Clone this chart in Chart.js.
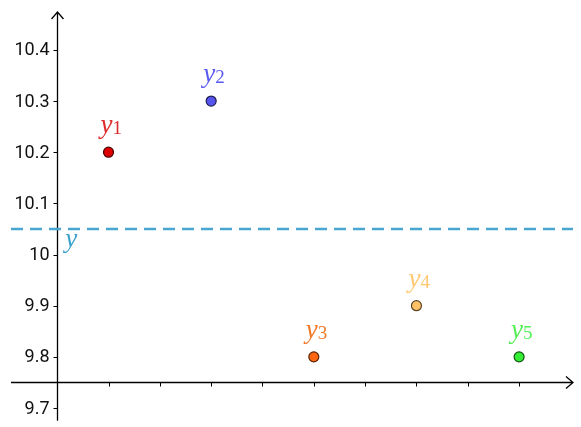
<!DOCTYPE html>
<html>
<head>
<meta charset="utf-8">
<script src="https://cdn.jsdelivr.net/npm/chart.js@4/dist/chart.umd.min.js"></script>
<style>
  html, body { margin: 0; padding: 0; background: #fff; }
  #wrap { width: 581px; height: 427px; }
</style>
</head>
<body>
<div id="wrap"><canvas id="plot" width="581" height="427"></canvas></div>
<script>
// point data
let names = ["1", "2", "3", "4", "5"];
let xValues = [1, 3, 5, 7, 9];
let yValues = [10.2, 10.3, 9.8, 9.9, 9.8];
let fillColors = ["#dd0000", "#5555ee", "#ff6611", "#ffc266", "#33ee33"];
let labelColors = ["#dd2b2b", "#5a5af0", "#f07a2a", "#ffc870", "#55ee55"];

// mean line
let meanValue = 10.05;

// axes
let yTicks = [9.7, 9.8, 9.9, 10, 10.1, 10.2, 10.3, 10.4];
let xTicks = [1, 2, 3, 4, 5, 6, 7, 8, 9];
let xAxisAt = 9.75;

function darker(hex) {
  let n = parseInt(hex.slice(1), 16);
  let r = Math.round(((n >> 16) & 255) * 0.35);
  let g = Math.round(((n >> 8) & 255) * 0.35);
  let b = Math.round((n & 255) * 0.35);
  return "rgb(" + r + "," + g + "," + b + ")";
}

let pointData = xValues.map((x, i) => ({ x: x, y: yValues[i] }));

let axesPlugin = {
  id: "axes",
  beforeDatasetsDraw(chart) {
    let ctx = chart.ctx;
    let xs = chart.scales.x, ys = chart.scales.y;
    let area = chart.chartArea;
    let x0 = Math.round(xs.getPixelForValue(0)) + 0.5;
    let yAx = Math.round(ys.getPixelForValue(xAxisAt)) + 0.5;
    ctx.save();
    ctx.strokeStyle = "#000";
    ctx.lineWidth = 1.3;
    // x axis
    ctx.beginPath();
    ctx.moveTo(area.left, yAx);
    ctx.lineTo(area.right, yAx);
    ctx.moveTo(area.right - 7, yAx - 6);
    ctx.lineTo(area.right, yAx);
    ctx.lineTo(area.right - 7, yAx + 6);
    // y axis
    ctx.moveTo(x0, area.bottom);
    ctx.lineTo(x0, area.top);
    ctx.moveTo(x0 - 6, area.top + 7);
    ctx.lineTo(x0, area.top);
    ctx.lineTo(x0 + 6, area.top + 7);
    ctx.stroke();
    // ticks
    ctx.lineWidth = 1;
    ctx.beginPath();
    xTicks.forEach(t => {
      let px = Math.round(xs.getPixelForValue(t)) + 0.5;
      ctx.moveTo(px, yAx);
      ctx.lineTo(px, yAx + 4);
    });
    yTicks.forEach(t => {
      let py = Math.round(ys.getPixelForValue(t)) + 0.5;
      ctx.moveTo(x0 - 4, py);
      ctx.lineTo(x0, py);
    });
    ctx.stroke();
    ctx.fillStyle = "#111";
    ctx.font = "18px Roboto";
    ctx.textAlign = "right";
    ctx.textBaseline = "middle";
    yTicks.forEach(t => {
      ctx.fillText(String(t), x0 - 8, ys.getPixelForValue(t) + 1);
    });
    ctx.restore();
  },
  afterDatasetsDraw(chart) {
    let ctx = chart.ctx;
    let xs = chart.scales.x, ys = chart.scales.y;
    ctx.save();
    ctx.textBaseline = "alphabetic";
    ctx.textAlign = "left";
    let meta = chart.getDatasetMeta(0);
    meta.data.forEach((el, i) => {
      let px = el.x - 8, py = el.y - 19;
      ctx.fillStyle = labelColors[i];
      ctx.font = "italic 27px 'Liberation Serif'";
      ctx.fillText("y", px, py);
      let w = ctx.measureText("y").width;
      ctx.font = "19px 'Liberation Serif'";
      ctx.fillText(names[i], px + w, py + 1);
    });
    // mean line label
    ctx.fillStyle = "#3aa0cc";
    ctx.font = "italic 27px 'Liberation Serif'";
    ctx.fillText("y", xs.getPixelForValue(0) + 8, ys.getPixelForValue(meanValue) + 18);
    ctx.restore();
  }
};

window.onload = function() {
  let ctx = document.getElementById("plot").getContext("2d");
  window.myPlot = new Chart(ctx, {
    type: "scatter",
    data: {
      datasets: [
        {
          label: "points",
          data: pointData,
          backgroundColor: fillColors,
          borderColor: fillColors.map(darker),
          borderWidth: 1.2,
          pointRadius: 5,
          order: 0
        },
        {
          label: "y",
          type: "line",
          data: [{ x: -0.9, y: meanValue }, { x: 10.05, y: meanValue }],
          borderColor: "#49a6d0",
          borderWidth: 2.6,
          borderDash: [12, 7],
          pointRadius: 0,
          fill: false,
          order: 1
        }
      ]
    },
    options: {
      responsive: false,
      animation: false,
      layout: { padding: { left: 11, right: 8, top: 12, bottom: 6 } },
      plugins: { legend: { display: false }, tooltip: { enabled: false } },
      scales: {
        x: { type: "linear", min: -0.9, max: 10.05, display: false },
        y: { type: "linear", min: 9.675, max: 10.474, display: false }
      }
    },
    plugins: [axesPlugin]
  });
};
</script>
</body>
</html>
